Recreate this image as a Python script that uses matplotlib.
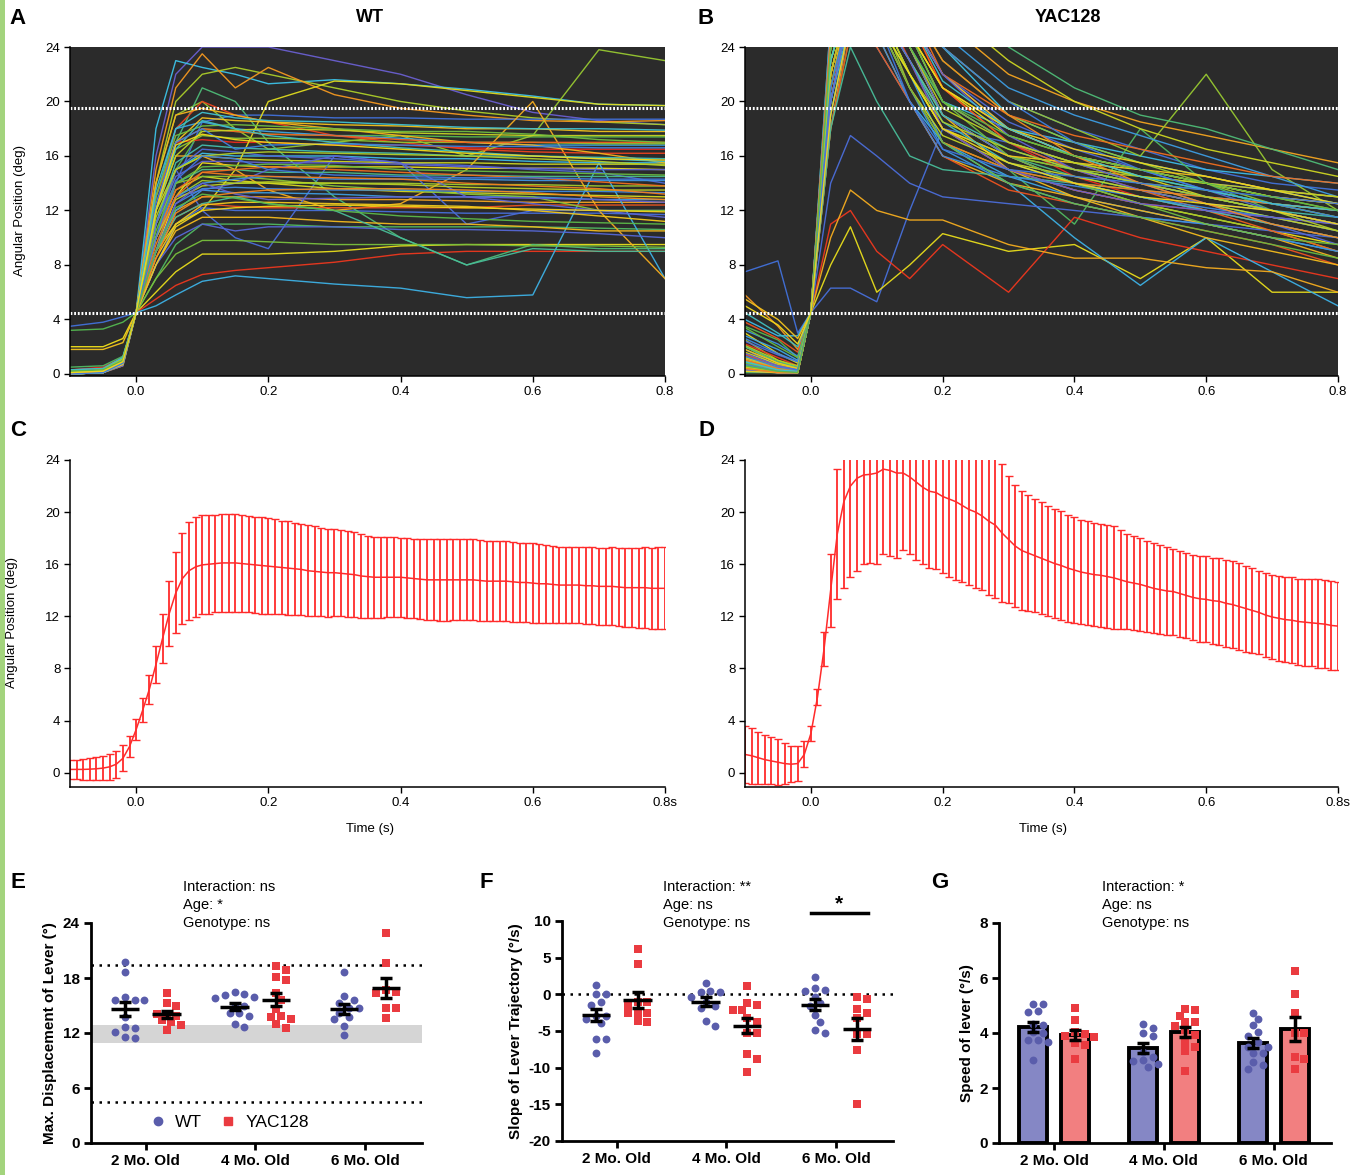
import numpy as np
import matplotlib
matplotlib.use("Agg")
import matplotlib.pyplot as plt
from matplotlib import font_manager
from matplotlib.colors import LinearSegmentedColormap
from matplotlib.lines import Line2D
from matplotlib.patches import Rectangle

# ---------------- data ----------------
trace_t = [-0.1, -0.05, -0.02, 0.0, 0.03, 0.06, 0.1, 0.15, 0.2, 0.3, 0.4, 0.5, 0.6, 0.7, 0.8]

wt_traces = [
    [0.1, 0.1, 0.8, 4.5, 16, 22, 24, 24, 24, 23, 22, 20.5, 19.2, 18.6, 18.3],
    [0.2, 0.2, 1.0, 4.5, 18, 23, 22.5, 22, 21.3, 21.6, 21.3, 20.9, 20.4, 19.8, 19.7],
    [0.1, 0.3, 1.2, 4.5, 14, 20, 22, 22.5, 22, 21, 20, 19.3, 18.8, 18.5, 18.3],
    [0.0, 0.2, 0.9, 4.5, 15, 21, 23.5, 21, 22.5, 20.5, 19.5, 19, 18.6, 18.5, 18.6],
    [3.5, 3.8, 4.2, 4.5, 9, 14, 18.5, 19, 19, 18.8, 18.8, 18.7, 18.7, 18.7, 18.7],
    [3.2, 3.3, 3.8, 4.5, 10, 15, 18, 17.8, 17.6, 17.5, 17.5, 17.4, 17.4, 17.4, 17.4],
    [2.0, 2.0, 2.6, 4.5, 9, 13, 15.5, 15.3, 15.2, 15.2, 15.2, 15.1, 15.1, 15.1, 15.0],
    [0.3, 0.5, 1.2, 4.5, 12, 17, 17.2, 17.0, 17.0, 16.8, 16.8, 16.6, 16.5, 16.5, 16.5],
    [0.1, 0.2, 1.0, 4.5, 11, 15, 16.2, 16.0, 16.0, 16.0, 15.8, 15.8, 15.6, 15.5, 15.5],
    [0.1, 0.2, 0.8, 4.5, 10, 13, 14.2, 14.0, 14.0, 14.0, 14.0, 13.9, 13.9, 13.8, 13.8],
    [0.0, 0.1, 0.7, 4.5, 9, 12, 13, 13.0, 13.0, 12.8, 12.8, 12.7, 12.6, 12.6, 12.6],
    [0.2, 0.3, 1.1, 4.5, 8, 11, 12.2, 12.0, 12.0, 12.0, 11.9, 11.8, 11.8, 11.8, 11.7],
    [0.5, 0.6, 1.3, 4.5, 7, 9.5, 11, 11.0, 11.0, 10.8, 10.8, 10.8, 10.8, 10.7, 10.6],
    [0.0, 0.2, 1.0, 4.5, 6, 7.5, 8.8, 8.8, 8.8, 9.0, 9.4, 9.5, 9.5, 9.5, 9.5],
    [0.0, 0.1, 0.9, 4.5, 5.5, 6.5, 7.3, 7.6, 7.8, 8.2, 8.8, 9.0, 9.0, 9.0, 9.0],
    [0.3, 0.4, 1.2, 4.5, 5.0, 5.8, 6.8, 7.2, 7.0, 6.6, 6.3, 5.6, 5.8, 15.5, 7.0],
    [0.1, 0.2, 1.0, 4.5, 14, 19, 20, 18, 16.5, 17, 17.5, 16, 17.5, 23.8, 23],
    [0.1, 0.2, 0.9, 4.5, 12, 16, 16, 15, 13.5, 12, 12.5, 15, 20, 12, 7.0],
    [0.0, 0.1, 0.9, 4.5, 11, 15, 12, 10, 9.2, 16, 15.5, 11, 12, 12, 12],
    [0.2, 0.3, 1.1, 4.5, 12, 17, 21, 20, 17, 13, 10, 8, 9.5, 9.2, 9.2],
    [0.1, 0.2, 0.9, 4.5, 9, 11, 12, 15, 20, 21.5, 21.3, 20.8, 20.3, 19.8, 19.7],
    [0.0, 0.1, 0.8, 4.5, 12, 18, 20, 19, 18.5, 17.5, 17.0, 16.5, 16.3, 16.2, 16.2],
    [0.0, 0.1, 0.7, 4.5, 13, 18, 18.5, 18, 17.8, 17.5, 17.3, 17.0, 16.8, 16.8, 16.8],
    [0.1, 0.1, 0.8, 4.5, 12, 16.5, 17.5, 17.3, 17.3, 17.2, 17.0, 17.0, 17.0, 16.9, 16.9],
    [0.0, 0.1, 0.6, 4.5, 14, 19, 19.5, 19, 18.5, 18, 17.5, 17, 16.8, 16.2, 15.5],
    [0.2, 0.3, 1.0, 4.5, 11, 15, 16.5, 16.3, 16.0, 15.8, 15.5, 15.3, 15.0, 14.8, 14.0],
    [0.0, 0.1, 0.8, 4.5, 10, 14, 15, 15, 14.8, 14.8, 14.6, 14.6, 14.5, 14.5, 14.5],
    [0.0, 0.2, 0.9, 4.5, 10, 13.5, 14.5, 14.2, 14.0, 13.6, 13.4, 13.3, 13.2, 13.1, 13.0],
    [0.1, 0.2, 0.9, 4.5, 9, 11.5, 12.5, 12.3, 12.2, 12.2, 12.2, 12.2, 12.4, 12.4, 12.4],
    [0.0, 0.2, 1.0, 4.5, 9, 12, 13.5, 13.3, 13.3, 13.2, 13.0, 13.0, 13.0, 12.8, 12.8],
    [0.0, 0.1, 0.9, 4.5, 11, 14, 14.5, 14.5, 14.3, 13.8, 13.5, 13.2, 13.0, 12.0, 12.0],
    [0.1, 0.2, 0.9, 4.5, 8, 10.5, 11.5, 11.5, 11.5, 11.2, 11.0, 11.0, 10.8, 10.5, 10.5],
    [0.0, 0.2, 0.8, 4.5, 8, 10, 11, 10.5, 10.8, 10.8, 10.6, 10.6, 10.5, 10.3, 10.0],
    [0.0, 0.1, 0.8, 4.5, 9, 11.5, 12.5, 13, 12.5, 12, 10, 8, 9.2, 9.0, 9.0],
    [0.0, 0.1, 0.8, 4.5, 12, 15, 16, 15.8, 15.7, 15.6, 15.5, 15.5, 15.4, 15.4, 15.4],
    [0.2, 0.3, 1.0, 4.5, 13, 17, 18, 17.8, 17.6, 17.5, 17.2, 17.0, 17.0, 17.0, 17.0],
    [0.0, 0.1, 0.9, 4.5, 10, 13, 14, 14.3, 14.5, 14.3, 14.3, 14.3, 14.2, 14.2, 14.2],
    [0.1, 0.2, 1.0, 4.5, 7, 8.8, 9.8, 9.8, 9.7, 9.5, 9.5, 9.5, 9.4, 9.4, 9.3],
    [1.8, 1.8, 2.3, 4.5, 12, 17, 18.8, 18.6, 18.5, 18.3, 18.2, 18.0, 18.0, 17.8, 17.8],
    [0.0, 0.2, 1.0, 4.5, 10, 13, 13.5, 14, 15, 16, 15.5, 13, 12.5, 12.0, 11.5],
    [0.0, 0.1, 0.8, 4.5, 11, 15.5, 16.8, 16.6, 16.5, 16.3, 16.2, 16.0, 16.0, 15.9, 15.8],
    [0.1, 0.2, 0.9, 4.5, 12, 16, 17.8, 17.9, 18.0, 17.9, 17.7, 17.6, 17.5, 17.5, 17.5],
    [0.0, 0.1, 0.7, 4.5, 10, 13.5, 14.8, 15.0, 15.2, 15.0, 14.8, 14.6, 14.4, 14.1, 13.8],
    [0.2, 0.3, 1.1, 4.5, 9, 12.5, 13.6, 13.7, 13.6, 13.5, 13.5, 13.4, 13.4, 13.4, 13.3],
    [0.0, 0.2, 0.9, 4.5, 13, 17.5, 18.2, 18.3, 18.2, 18.0, 17.8, 17.8, 17.6, 17.2, 17.0],
    [0.1, 0.1, 0.8, 4.5, 8.5, 11, 12.4, 12.6, 12.6, 12.5, 12.4, 12.3, 12.0, 11.6, 11.2],
    [0.0, 0.1, 0.6, 4.5, 11, 14.5, 15.6, 15.6, 15.5, 15.5, 15.4, 15.2, 15.1, 15.0, 15.0],
    [0.3, 0.4, 1.2, 4.5, 12, 16.5, 18.6, 18.0, 17.5, 17.0, 16.6, 16.3, 16.0, 15.8, 15.6],
    [0.0, 0.2, 1.0, 4.5, 10, 12.8, 13.8, 14.0, 14.1, 14.0, 13.9, 13.7, 13.6, 13.5, 13.5],
    [0.1, 0.2, 0.9, 4.5, 9.5, 13, 14.8, 14.6, 14.5, 14.4, 14.3, 14.0, 13.8, 13.6, 13.2],
    [0.0, 0.1, 0.8, 4.5, 12.5, 17, 18.0, 16.5, 16.8, 16.9, 16.8, 16.7, 16.7, 16.6, 16.6],
    [0.2, 0.2, 0.9, 4.5, 10.5, 14, 15.2, 15.3, 15.4, 15.3, 15.0, 14.9, 14.8, 14.7, 14.6],
    [0.0, 0.1, 0.7, 4.5, 8, 10.8, 12.0, 12.2, 12.3, 12.4, 12.3, 12.2, 12.1, 12.0, 11.9],
    [0.1, 0.2, 1.0, 4.5, 9, 12.5, 14.0, 13.2, 12.8, 12.9, 13.0, 13.0, 12.9, 12.8, 12.6],
    [0.0, 0.1, 0.8, 4.5, 13.5, 18, 19.2, 18.8, 18.6, 18.5, 18.3, 18.1, 18.0, 18.0, 17.9],
    [0.1, 0.3, 1.1, 4.5, 11.5, 15, 16.0, 16.2, 16.3, 16.2, 16.1, 16.0, 15.8, 15.6, 15.3],
    [0.0, 0.2, 0.9, 4.5, 8.5, 11.8, 13.0, 13.3, 13.5, 13.6, 13.6, 13.5, 13.3, 13.0, 12.8],
    [0.0, 0.1, 0.8, 4.5, 10, 14.2, 16.0, 15.8, 15.0, 14.6, 14.5, 14.4, 14.4, 14.3, 14.3],
    [0.2, 0.3, 1.0, 4.5, 9, 12.2, 13.2, 12.9, 12.5, 12.0, 11.6, 11.4, 11.2, 11.1, 11.0],
    [0.1, 0.2, 0.9, 4.5, 12, 16.8, 17.6, 17.2, 17.0, 16.8, 16.5, 16.2, 16.0, 15.8, 15.7],
]

yac_traces = [
    [0.5, 0.2, 0.3, 4.5, 24, 28, 28, 26, 22, 18, 16, 15, 14, 13.5, 13],
    [1.0, 0.3, 0.2, 4.5, 22, 28, 28, 27, 24, 19, 17, 15.5, 14.5, 13.5, 12.5],
    [2.0, 0.8, 0.5, 4.5, 20, 27, 28, 24, 19, 16, 15, 14.5, 14, 13, 12],
    [5.8, 3.5, 1.8, 4.5, 18, 26, 28, 25, 20, 17, 15.5, 14, 13, 12, 11],
    [7.5, 8.3, 3.0, 4.5, 24, 28, 28, 27, 24, 20, 18, 16.5, 15, 14, 13.5],
    [3.5, 2.5, 1.2, 4.5, 20, 27, 26, 22, 18, 15, 14, 13, 12, 11, 10],
    [0.3, 0.1, 0.1, 4.5, 25, 28, 27, 23, 19, 16, 14, 12.5, 11.5, 10.5, 9.5],
    [0.2, 0.1, 0.3, 4.5, 20, 28, 28, 26, 21, 17, 14.5, 13, 12, 11, 10],
    [4.0, 2.8, 2.8, 4.5, 23, 28, 28, 24, 20, 18, 17, 16, 15, 14.5, 14],
    [2.5, 1.0, 0.5, 4.5, 21, 28, 27, 21, 17, 15, 13.5, 12.5, 11.5, 10.5, 9],
    [1.5, 0.5, 0.3, 4.5, 24, 28, 28, 28, 26, 22, 20, 18.5, 17.5, 16.5, 15.5],
    [0.8, 0.4, 0.5, 4.5, 6.3, 6.3, 5.3, 12, 18, 17, 15, 14, 13, 12.5, 12],
    [0.1, 0.1, 0.2, 4.5, 18, 25, 26, 22, 18, 15, 11, 18, 14, 12, 11],
    [3.0, 1.5, 0.8, 4.5, 8, 10.8, 6.0, 8, 10.3, 9, 9.5, 7, 10, 6, 6],
    [2.2, 1.2, 0.6, 4.5, 11, 12, 9, 7, 9.5, 6, 11.5, 10, 9, 8, 7],
    [1.2, 0.4, 0.2, 4.5, 20, 26, 24, 20, 17, 14, 10, 6.5, 10, 7.5, 5.0],
    [0.6, 0.2, 0.1, 4.5, 25, 28, 28, 26, 24, 20, 18, 16, 22, 15, 12],
    [0.5, 0.2, 0.1, 4.5, 10, 13.5, 12, 11.3, 11.3, 9.5, 8.5, 8.5, 7.8, 7.5, 6],
    [1.8, 0.6, 0.3, 4.5, 14, 17.5, 16, 14, 13, 12.5, 12, 11.5, 11, 10.5, 10],
    [0.9, 0.3, 0.2, 4.5, 26, 28, 28, 28, 28, 24, 21, 19, 18, 16.5, 15],
    [0.4, 0.1, 0.1, 4.5, 23, 28, 28, 25, 21, 17.5, 16, 15, 14, 13, 12.5],
    [1.4, 0.6, 0.4, 4.5, 22, 28, 28, 23, 18, 15, 13.5, 12.5, 12, 11.5, 11],
    [2.8, 1.8, 1.0, 4.5, 19, 26, 27, 22, 17, 14.5, 13, 12, 11, 10, 9],
    [0.7, 0.2, 0.2, 4.5, 24, 28, 28, 27, 23, 19, 17, 15.5, 14, 12.5, 11.5],
    [1.1, 0.4, 0.2, 4.5, 21, 28, 25, 20, 16, 14, 13, 12, 11, 10, 8.5],
    [0.3, 0.1, 0.1, 4.5, 25, 28, 28, 26, 22, 18.5, 16.5, 15, 13.5, 12, 11],
    [2.0, 0.9, 0.5, 4.5, 20, 27, 28, 24, 19, 16, 14.5, 13.5, 12.5, 11.5, 10.5],
    [0.6, 0.2, 0.1, 4.5, 23, 28, 28, 25, 21, 18, 16, 14.5, 13, 12, 11],
    [3.8, 2.6, 1.6, 4.5, 18, 25, 24, 20, 16, 13.5, 12.5, 11.5, 10.5, 9.5, 8],
    [0.2, 0.1, 0.1, 4.5, 26, 28, 28, 28, 25, 21, 19, 17.5, 16, 14.5, 13],
    [1.3, 0.5, 0.3, 4.5, 22, 28, 27, 22, 18, 16, 15, 14, 13.5, 12.5, 12],
    [0.8, 0.3, 0.2, 4.5, 24, 28, 28, 24, 19, 15, 13, 11.5, 10, 9, 8],
    [2.4, 1.4, 0.9, 4.5, 21, 27, 28, 25, 20, 17, 15.5, 14, 12.5, 11, 9.5],
    [0.4, 0.1, 0.1, 4.5, 18, 24, 20, 16, 15, 14.5, 14, 13.5, 13, 12.5, 12],
    [1.6, 0.7, 0.4, 4.5, 24, 28, 28, 28, 27, 23, 20, 18, 16.5, 15.5, 14.5],
    [0.5, 0.2, 0.2, 4.5, 22, 28, 28, 26, 21, 17, 15, 13.5, 12, 10.5, 9],
    [3.2, 2.2, 1.3, 4.5, 20, 27, 26, 21, 16.5, 14, 12.5, 11.5, 11, 10, 9],
    [0.9, 0.3, 0.2, 4.5, 23, 28, 28, 25, 20, 17, 15.5, 14.5, 13.5, 12.5, 11.5],
    [5.5, 4.0, 2.6, 4.5, 22, 28, 28, 26, 22, 18, 16, 15, 14.5, 13.5, 13],
    [0.3, 0.1, 0.1, 4.5, 25, 28, 28, 24, 19, 16, 14, 13, 12, 11.5, 10.5],
    [0.6, 0.2, 0.2, 4.5, 23, 28, 27, 23, 19, 16.5, 15, 14, 13, 12, 11.5],
    [1.2, 0.5, 0.3, 4.5, 21, 27, 26, 21, 17.5, 15.5, 14.5, 13.5, 12.5, 11.5, 10.5],
    [0.4, 0.1, 0.1, 4.5, 25, 28, 28, 27, 22, 19, 17.5, 16.5, 15.5, 14.5, 14],
    [2.6, 1.5, 0.9, 4.5, 19, 26, 25, 20, 16, 14.5, 13.8, 13, 12.2, 11.5, 11],
    [0.8, 0.3, 0.2, 4.5, 24, 28, 28, 25, 20, 16, 14, 12.5, 11, 10, 9.5],
    [1.8, 0.8, 0.4, 4.5, 22, 28, 27, 22, 18, 16, 15.5, 15, 14, 13, 12.5],
    [0.3, 0.1, 0.1, 4.5, 24, 28, 28, 26, 22, 17.5, 15, 13.5, 12.5, 12, 11],
    [4.5, 3.0, 2.0, 4.5, 20, 27, 27, 23, 18.5, 15.5, 14, 13, 12, 11, 10],
    [0.5, 0.2, 0.1, 4.5, 23, 28, 28, 24, 19.5, 17, 15.5, 14.5, 14, 13.5, 13],
    [1.0, 0.4, 0.2, 4.5, 22, 28, 26, 21, 17, 15, 14, 13.5, 13, 12.5, 12],
    [0.7, 0.2, 0.2, 4.5, 25, 28, 28, 28, 24, 20, 17, 15, 13.5, 12.5, 11.5],
    [3.4, 2.0, 1.2, 4.5, 21, 27, 26, 21, 17, 14, 12.5, 11.5, 10.5, 9.5, 8.5],
    [0.2, 0.1, 0.1, 4.5, 24, 28, 28, 25, 21, 18, 16.5, 15.5, 14.5, 13.5, 12.5],
    [1.5, 0.6, 0.3, 4.5, 20, 27, 27, 23, 18, 15, 13.5, 12.5, 12, 11.5, 11],
    [0.9, 0.3, 0.2, 4.5, 23, 28, 28, 26, 21.5, 18, 16, 14.5, 13.5, 12.5, 12],
    [2.1, 1.0, 0.6, 4.5, 22, 28, 27, 22, 18.5, 16.5, 15, 14, 13, 12, 10.5],
    [0.4, 0.1, 0.1, 4.5, 25, 28, 28, 27, 23, 19, 16, 14, 12.5, 11, 10],
    [1.3, 0.5, 0.3, 4.5, 21, 27, 26, 20, 16.5, 15, 14.5, 14, 13.5, 13, 12.5],
    [0.6, 0.2, 0.1, 4.5, 24, 28, 28, 24, 20, 17.5, 16, 15, 14, 13, 12],
    [5.0, 3.6, 2.2, 4.5, 19, 26, 26, 22, 18, 15.5, 14, 13, 12.5, 12, 11],
]

mean_t = np.linspace(-0.1, 0.8, 91)

wt_mean = [
    0.25, 0.25, 0.25, 0.27, 0.3, 0.35, 0.45, 0.65, 1.1, 2.0,
    3.3, 4.8, 6.4, 8.3, 10.3, 12.2, 13.8, 14.9, 15.5, 15.8,
    15.95, 16.0, 16.05, 16.1, 16.1, 16.1, 16.05, 16.0, 15.95, 15.9,
    15.85, 15.8, 15.75, 15.7, 15.65, 15.6, 15.5, 15.45, 15.4, 15.35,
    15.35, 15.3, 15.25, 15.2, 15.1, 15.05, 15.0, 15.0, 15.0, 15.0,
    15.0, 14.95, 14.9, 14.85, 14.8, 14.8, 14.8, 14.8, 14.8, 14.8,
    14.8, 14.8, 14.75, 14.7, 14.7, 14.7, 14.7, 14.65, 14.6, 14.6,
    14.55, 14.5, 14.5, 14.45, 14.4, 14.4, 14.4, 14.4, 14.35, 14.35,
    14.3, 14.3, 14.3, 14.25, 14.2, 14.2, 14.2, 14.2, 14.15, 14.15,
    14.15,
]
wt_sd = [
    0.75, 0.75, 0.8, 0.85, 0.9, 0.95, 1.0, 1.05, 1.0, 0.8,
    0.8, 0.9, 1.1, 1.4, 1.9, 2.5, 3.1, 3.5, 3.75, 3.85,
    3.8, 3.8, 3.75, 3.75, 3.75, 3.75, 3.72, 3.7, 3.7, 3.7,
    3.7, 3.65, 3.6, 3.58, 3.55, 3.5, 3.48, 3.45, 3.4, 3.38,
    3.35, 3.3, 3.28, 3.25, 3.2, 3.15, 3.12, 3.1, 3.08, 3.06,
    3.05, 3.05, 3.06, 3.08, 3.1, 3.1, 3.12, 3.12, 3.1, 3.1,
    3.1, 3.1, 3.08, 3.06, 3.05, 3.05, 3.05, 3.06, 3.06, 3.05,
    3.05, 3.03, 3.0, 2.97, 2.93, 2.9, 2.9, 2.92, 2.94, 2.95,
    2.95, 2.97, 2.99, 3.01, 3.03, 3.05, 3.07, 3.1, 3.12, 3.14,
    3.15,
]
yac_mean = [
    1.4, 1.3, 1.15, 1.0, 0.9, 0.8, 0.7, 0.65, 0.7, 1.4,
    3.0, 5.8, 9.5, 14.0, 18.3, 20.8, 22.0, 22.6, 22.85, 22.9,
    23.0, 23.3, 23.2, 23.0, 23.0, 22.7, 22.3, 21.9, 21.6, 21.5,
    21.2, 21.0, 20.8, 20.5, 20.2, 20.0, 19.7, 19.3, 19.0, 18.4,
    17.9, 17.4, 17.05, 16.85, 16.65, 16.45, 16.25, 16.05, 15.9, 15.7,
    15.55, 15.4, 15.3, 15.2, 15.15, 15.05, 14.95, 14.8, 14.65, 14.55,
    14.45, 14.3, 14.15, 14.05, 13.95, 13.9, 13.75, 13.6, 13.45, 13.35,
    13.3, 13.2, 13.15, 13.0, 12.9, 12.75, 12.6, 12.45, 12.3, 12.1,
    11.95, 11.85, 11.75, 11.7, 11.6, 11.55, 11.5, 11.45, 11.4, 11.3,
    11.25,
]
yac_sd = [
    2.2, 2.15, 2.0, 1.9, 1.8, 1.75, 1.55, 1.4, 1.35, 1.0,
    0.6, 0.6, 1.3, 2.8, 5.0, 6.6, 7.0, 7.1, 6.8, 6.8,
    7.0, 6.5, 6.6, 6.5, 5.9, 5.9, 6.0, 5.9, 5.9, 5.9,
    5.9, 6.0, 6.0, 5.9, 5.8, 5.8, 5.7, 5.7, 5.6, 5.3,
    4.9, 4.7, 4.55, 4.45, 4.35, 4.3, 4.25, 4.2, 4.2, 4.1,
    4.05, 4.0, 4.0, 3.95, 3.95, 3.95, 3.95, 3.8, 3.65, 3.6,
    3.55, 3.5, 3.45, 3.4, 3.35, 3.3, 3.3, 3.25, 3.25, 3.3,
    3.3, 3.3, 3.35, 3.35, 3.35, 3.35, 3.3, 3.25, 3.2, 3.2,
    3.25, 3.25, 3.25, 3.3, 3.3, 3.35, 3.35, 3.4, 3.4, 3.4,
    3.35,
]

ages = ["2 Mo. Old", "4 Mo. Old", "6 Mo. Old"]

disp_wt = [
    [19.7, 18.7, 15.9, 15.6, 15.6, 15.6, 13.8, 12.1, 12.7, 12.5, 11.5, 11.6],
    [16.5, 16.3, 16.2, 15.8, 15.9, 15.0, 14.9, 14.2, 14.2, 13.9, 12.7, 13.0],
    [18.7, 15.6, 16.0, 15.3, 14.7, 14.7, 14.2, 13.8, 13.5, 12.8, 11.8],
]
disp_yac = [
    [16.4, 15.3, 14.9, 14.1, 14.1, 13.9, 13.4, 13.2, 12.9, 12.3],
    [19.3, 18.9, 17.8, 18.1, 16.4, 15.6, 13.9, 13.5, 13.8, 14.6, 13.0, 12.5],
    [22.9, 19.6, 16.7, 16.5, 16.4, 14.7, 14.7, 13.6],
]
slope_wt = [
    [1.3, 0.0, 0.0, -1.0, -1.4, -3.0, -3.0, -3.4, -3.9, -6.1, -6.1, -8.0],
    [1.5, 0.3, 0.3, 0.5, -0.3, -1.6, -1.9, -1.0, -3.7, -4.3],
    [2.4, 0.6, 0.5, 0.8, -0.4, -1.2, -1.6, -2.8, -3.8, -4.9, -5.3],
]
slope_yac = [
    [6.2, 4.2, -1.0, -1.0, -1.4, -2.5, -2.5, -2.6, -3.6, -3.8],
    [1.1, -1.2, -1.5, -2.1, -2.1, -3.2, -3.8, -5.3, -5.3, -8.2, -8.8, -10.6],
    [-0.3, -0.7, -2.0, -2.6, -3.2, -5.4, -5.4, -7.6, -14.9],
]
speed_wt = [
    [5.05, 5.05, 4.81, 4.75, 4.33, 4.29, 4.02, 4.01, 3.75, 3.69, 3.75, 3.02],
    [4.31, 4.17, 4.01, 3.89, 3.32, 2.98, 2.88, 3.02, 2.76, 3.14],
    [4.71, 4.5, 4.29, 4.04, 3.89, 3.69, 3.5, 3.5, 3.29, 3.26, 2.96, 2.85, 2.7],
]
speed_yac = [
    [4.92, 4.46, 4.05, 3.98, 3.87, 3.89, 3.63, 3.57, 3.06],
    [4.83, 4.86, 4.63, 4.41, 4.39, 4.27, 4.11, 3.93, 3.63, 3.48, 3.35, 2.62],
    [6.25, 5.41, 4.71, 4.01, 4.01, 3.11, 3.05, 2.68],
]

# ---------------- style ----------------
W, H = 1368, 1175
installed = {f.name for f in font_manager.fontManager.ttflist}
NARROW = "Liberation Sans Narrow" if "Liberation Sans Narrow" in installed else "Liberation Sans"
plt.rcParams["font.family"] = ["Liberation Sans", "DejaVu Sans"]

WT_DOT = "#5a5dab"
YAC_DOT = "#ea3b40"
WT_BAR = "#8587c5"
YAC_BAR = "#f27f80"
TRACE_RED = "#ff2b2b"
TRACE_CMAP = LinearSegmentedColormap.from_list(
    "traces", ["#6a5fd0", "#3f72dc", "#3cc2e8", "#55b84a", "#a9cc2a",
               "#f2e01a", "#f5a020", "#ec2a1e"])


def fig_axes(fig, left, top, right, bottom):
    # pixel box -> figure fraction
    return fig.add_axes([left / W, 1 - bottom / H, (right - left) / W, (bottom - top) / H])


def time_axis(ax, last_label):
    ax.set_xlim(-0.1, 0.8)
    ax.set_ylim(-1.1, 24)
    ax.set_xticks([0, 0.2, 0.4, 0.6, 0.8], ["0.0", "0.2", "0.4", "0.6", last_label])
    ax.set_yticks(range(0, 25, 4))
    for s in ("top", "right"):
        ax.spines[s].set_visible(False)
    for s in ("left", "bottom"):
        ax.spines[s].set_linewidth(1.1)
    ax.tick_params(length=4, width=1, labelsize=9.5, pad=3)
    for lab in ax.get_xticklabels() + ax.get_yticklabels():
        lab.set_family(NARROW)


def trace_panel(ax, traces):
    ax.set_facecolor("#2b2b2b")
    n = len(traces)
    for i, tr in enumerate(traces):
        c = TRACE_CMAP(((i * 17) % n) / (n - 1))
        ax.plot(trace_t, tr, color=c, lw=1.0, alpha=0.95)
    for y in (19.5, 4.5):
        ax.axhline(y, color="white", lw=2.2, ls=(0, (0.6, 0.6)))
    time_axis(ax, "0.8")
    ax.set_ylim(-0.15, 24)


def mean_panel(ax, mean, sd):
    ax.errorbar(mean_t, mean, yerr=sd, color=TRACE_RED, lw=1.1,
                elinewidth=1.3, capsize=2.7, capthick=1.0)
    time_axis(ax, "0.8s")


def swarm(values, center, yscale, diam=7.5, xscale=110.0):
    placed = []
    xs = np.zeros(len(values))
    for i in np.argsort(values)[::-1]:
        y = values[i] * yscale
        k = 0
        while True:
            cands = [0.0] if k == 0 else [k * diam * 0.65, -k * diam * 0.65]
            hit = None
            for x in cands:
                if all((x - px) ** 2 + (y - py) ** 2 >= diam ** 2 for px, py in placed):
                    hit = x
                    break
            if hit is not None:
                break
            k += 1
        placed.append((hit, y))
        xs[i] = center + hit / xscale
    return xs


def stats_axes(ax, ylim, yticks, ylabel):
    ax.set_xlim(-0.5, 2.52)
    ax.set_ylim(*ylim)
    ax.set_yticks(yticks, [str(v) for v in yticks], fontweight="bold", fontsize=11)
    ax.set_xticks([0, 1, 2], ages, fontweight="bold", fontsize=11)
    for s in ("top", "right"):
        ax.spines[s].set_visible(False)
    for s in ("left", "bottom"):
        ax.spines[s].set_linewidth(2)
    ax.tick_params(width=2, length=5, pad=3)
    ax.set_ylabel(ylabel, fontweight="bold", fontsize=11, labelpad=4)


def dot_groups(ax, wt_groups, yac_groups, yscale, bars=False):
    for g in range(3):
        for vals, off, dot, fill, marker in ((wt_groups[g], -0.19, WT_DOT, WT_BAR, "o"),
                                             (yac_groups[g], 0.19, YAC_DOT, YAC_BAR, "s")):
            vals = np.asarray(vals, dtype=float)
            m = vals.mean()
            se = vals.std(ddof=1) / np.sqrt(len(vals))
            x0 = g + off
            if bars:
                ax.bar(x0, m, width=0.255, color=fill, edgecolor="black", lw=2.8, zorder=2)
            xs = swarm(vals, x0, yscale)
            ax.scatter(xs, vals, s=32 if marker == "o" else 28, marker=marker,
                       color=dot, lw=0, zorder=3)
            if not bars:
                ax.hlines(m, x0 - 0.13, x0 + 0.13, color="black", lw=2.5, zorder=4)
            ax.errorbar(x0, m, yerr=se, color="black", capsize=4.2, capthick=2.5,
                        elinewidth=2.5, zorder=4)


def stat_text(fig, x, lines):
    for i, s in enumerate(lines):
        fig.text(x / W, 1 - (887 + 18 * i) / H, s, fontsize=10.5, va="center", ha="left")


fig = plt.figure(figsize=(W / 100, H / 100), dpi=100)
fig.add_artist(Rectangle((0, 0), 5 / W, 1, transform=fig.transFigure, color="#a3d47d", lw=0))

# ---- A / B ----
axA = fig_axes(fig, 70, 47, 665, 376)
trace_panel(axA, wt_traces)
axB = fig_axes(fig, 745, 47, 1338, 376)
trace_panel(axB, yac_traces)

# ---- C / D ----
axC = fig_axes(fig, 70, 460, 665, 787)
mean_panel(axC, wt_mean, wt_sd)
axD = fig_axes(fig, 745, 460, 1338, 787)
mean_panel(axD, yac_mean, yac_sd)

for x, y, s in ((20, 211, "Angular Position (deg)"), (12, 623, "Angular Position (deg)")):
    fig.text(x / W, 1 - y / H, s, rotation=90, fontsize=9.5, ha="center", va="center")
for x in (370, 1043):
    fig.text(x / W, 1 - 829 / H, "Time (s)", fontsize=9.5, ha="center", va="center")

fig.text(370 / W, 1 - 18 / H, "WT", fontsize=13, fontweight="bold", ha="center", va="center")
fig.text(1068 / W, 1 - 18 / H, "YAC128", fontsize=13, fontweight="bold", ha="center", va="center")

for x, y, s in ((18, 18, "A"), (706, 18, "B"), (18, 430, "C"), (706, 430, "D"),
                (18, 883, "E"), (486, 883, "F"), (940, 883, "G")):
    fig.text(x / W, 1 - y / H, s, fontsize=16, fontweight="bold", ha="center", va="center")

# ---- E ----
axE = fig_axes(fig, 91, 923, 422, 1143)
stats_axes(axE, (0, 24), [0, 6, 12, 18, 24], "Max. Displacement of Lever (°)")
axE.axhspan(10.9, 12.9, color="#d5d5d5", lw=0, zorder=0)
for y in (19.4, 4.5):
    axE.axhline(y, color="black", lw=1.8, ls=(0, (1, 2.2)), zorder=1)
dot_groups(axE, disp_wt, disp_yac, 220 / 24)
handles = [Line2D([], [], ls="", marker="o", color=WT_DOT, markersize=6),
           Line2D([], [], ls="", marker="s", color=YAC_DOT, markersize=5.5)]
axE.legend(handles, ["WT", "YAC128"], loc="center", bbox_to_anchor=(0.415, 0.095),
           ncol=2, frameon=False, fontsize=12.5, handletextpad=0.4, columnspacing=0.9,
           handlelength=1.2)
stat_text(fig, 183, ["Interaction: ns", "Age: *", "Genotype: ns"])

# ---- F ----
axF = fig_axes(fig, 562, 921, 893, 1141)
stats_axes(axF, (-20, 10), [-20, -15, -10, -5, 0, 5, 10], "Slope of Lever Trajectory (°/s)")
axF.axhline(0, color="black", lw=1.8, ls=(0, (1, 2.2)), zorder=1)
dot_groups(axF, slope_wt, slope_yac, 220 / 30)
axF.plot([1.77, 2.29], [11.1, 11.1], color="black", lw=2.5, clip_on=False)
axF.text(2.03, 12.3, "*", ha="center", va="center", fontsize=15, fontweight="bold")
stat_text(fig, 663, ["Interaction: **", "Age: ns", "Genotype: ns"])

# ---- G ----
axG = fig_axes(fig, 999, 923, 1331, 1143)
stats_axes(axG, (0, 8), [0, 2, 4, 6, 8], "Speed of lever (°/s)")
dot_groups(axG, speed_wt, speed_yac, 220 / 8, bars=True)
stat_text(fig, 1102, ["Interaction: *", "Age: ns", "Genotype: ns"])

fig.savefig("out.png", dpi=100)
